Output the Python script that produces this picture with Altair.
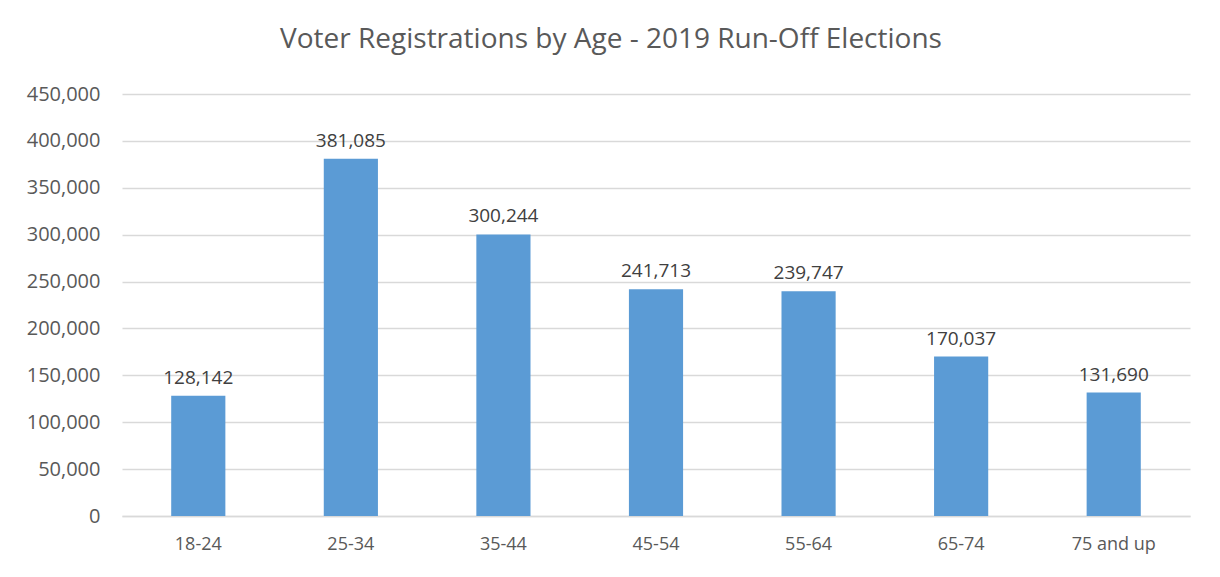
import altair as alt
import pandas as pd

ages = ["18-24", "25-34", "35-44", "45-54", "55-64", "65-74", "75 and up"]
registrations = [128142, 381085, 300244, 241713, 239747, 170037, 131690]

df = pd.DataFrame({"age": ages, "count": registrations})

base = alt.Chart(df).encode(
    x=alt.X("age:N", sort=ages, title=None,
            scale=alt.Scale(paddingInner=0.645, paddingOuter=0.3225),
            axis=alt.Axis(labelAngle=0, labelFontSize=18, labelColor="#595959",
                          labelFont="Open Sans", labelPadding=19, ticks=False,
                          domainColor="#d9d9d9", domainWidth=1.5)),
    y=alt.Y("count:Q", title=None,
            scale=alt.Scale(domain=[0, 450000], nice=False),
            axis=alt.Axis(values=list(range(0, 450001, 50000)), format=",.0f",
                          labelFontSize=20, labelColor="#595959", labelFont="Open Sans",
                          labelPadding=22, ticks=False, domain=False,
                          gridColor="#d9d9d9", gridWidth=1.5)),
)

bars = base.mark_bar(color="#5b9bd5")
labels = base.mark_text(dy=-18, fontSize=19, color="#404040", font="Open Sans").encode(
    text=alt.Text("count:Q", format=",")
)

chart = (bars + labels).properties(
    width=1068, height=422,
    autosize=alt.AutoSizeParams(type="none"),
    padding={"left": 114, "top": 86, "right": 22, "bottom": 53},
    title=alt.TitleParams("Voter Registrations by Age - 2019 Run-Off Elections",
                          fontSize=28, font="Open Sans", fontWeight="normal",
                          color="#595959", anchor="middle", dx=-45, offset=30),
).configure_view(stroke=None)

chart.save("out.html", embed_options={"renderer": "svg", "actions": False})
